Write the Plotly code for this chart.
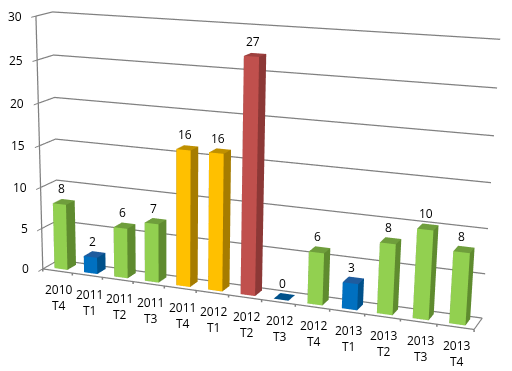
import plotly.graph_objects as go

categories = ["2010<br>T4","2011<br>T1","2011<br>T2","2011<br>T3","2011<br>T4","2012<br>T1","2012<br>T2","2012<br>T3","2012<br>T4","2013<br>T1","2013<br>T2","2013<br>T3","2013<br>T4"]
values = [8,2,6,7,16,16,27,0,6,3,8,10,8]
groups = ["g","b","g","g","y","y","r","b","g","b","g","g","g"]
z_ticks = [0,5,10,15,20,25,30]

FW,FH=700,1198
OFFX,OFFY=174-FW/2,242-FH/2
colors={"g":("#92D050","#5F8B2F","#6F9E3C"),"b":("#0070C0","#00518B","#1F5C9E"),"y":("#FFC000","#A67C00","#BF9000"),"r":("#C0504D","#8C3836","#9E403E")}
fig=go.Figure()
def bar(i,v,g):
    x0,x1=i-.22,i+.22;y0,y1=.22,.78
    xs=[x0,x1,x1,x0,x0,x1,x1,x0];ys=[y0,y0,y1,y1,y0,y0,y1,y1];zs=[0,0,0,0,v,v,v,v]
    tri=[(0,1,5),(0,5,4),(1,2,6),(1,6,5),(4,5,6),(4,6,7),(2,3,7),(2,7,6),(3,0,4),(3,4,7),(0,1,2),(0,2,3)]
    c=colors[g]
    fc=[c[0],c[0],c[1],c[1],c[2],c[2],c[1],c[1],c[1],c[1],c[1],c[1]]
    fig.add_trace(go.Mesh3d(x=xs,y=ys,z=zs,i=[t[0] for t in tri],j=[t[1] for t in tri],k=[t[2] for t in tri],facecolor=fc,flatshading=True,
      lighting=dict(ambient=1,diffuse=0,specular=0,roughness=1,fresnel=0),hoverinfo="skip",showscale=False))
for i,(v,g) in enumerate(zip(values,groups)): bar(i,v,g)
F=dict(family="Open Sans",size=12,color="#000000")
ann=[]
for i,(v,cat) in enumerate(zip(values,categories)):
    ann.append(dict(x=i,y=.5,z=v,text=str(v),showarrow=False,yshift=13,xshift=-2,font=F))
    ann.append(dict(x=i,y=0,z=0,text=cat,showarrow=False,yshift=-27,xshift=2,font=F))
for z in z_ticks:
    ann.append(dict(x=-.5,y=0,z=z,text=str(z),showarrow=False,xanchor="right",xshift=-12,font=F))
for i in range(len(categories)+1):
    ann.append(dict(x=i-.5,y=0,z=0,text="",showarrow=True,arrowhead=0,arrowwidth=1.5,arrowcolor="#808080",ax=0,ay=4,standoff=0))
ax_common=dict(showbackground=False,showticklabels=False,title=dict(text=""),showspikes=False,zeroline=False,showline=True,linecolor="#808080",linewidth=2.5,gridcolor="#808080",gridwidth=2.5,ticks="outside",ticklen=8,tickwidth=2,tickcolor="#808080")
fig.update_layout(width=FW,height=FH,margin=dict(l=0,r=0,t=0,b=0),paper_bgcolor="white",showlegend=False,
 scene=dict(domain=dict(x=[0,1],y=[0,1]),aspectmode="manual",aspectratio=dict(x=1,y=0.0755,z=0.5811),
  camera=dict(eye=dict(x=1.0704,y=-2.8175,z=0.7182),center=dict(x=-0.0721,y=-0.2546,z=-0.1152),up=dict(x=0.0121,y=0,z=1),projection=dict(type="perspective")),
  xaxis=dict(ax_common,range=[-.5,12.5],tickvals=[i-.5 for i in range(14)],showgrid=False,ticks=""),
  yaxis=dict(ax_common,range=[0,1],tickvals=[],showgrid=False),
  zaxis=dict(ax_common,range=[0,30],tickvals=z_ticks,showgrid=True),
  annotations=ann))
post="document.documentElement.style.overflow='hidden';document.body.style.overflow='hidden';document.body.style.margin='0';var g=document.getElementById('{plot_id}');g.style.position='absolute';g.style.left='%dpx';g.style.top='%dpx';"%(OFFX,OFFY)
fig.write_html("out.html",post_script=post)
